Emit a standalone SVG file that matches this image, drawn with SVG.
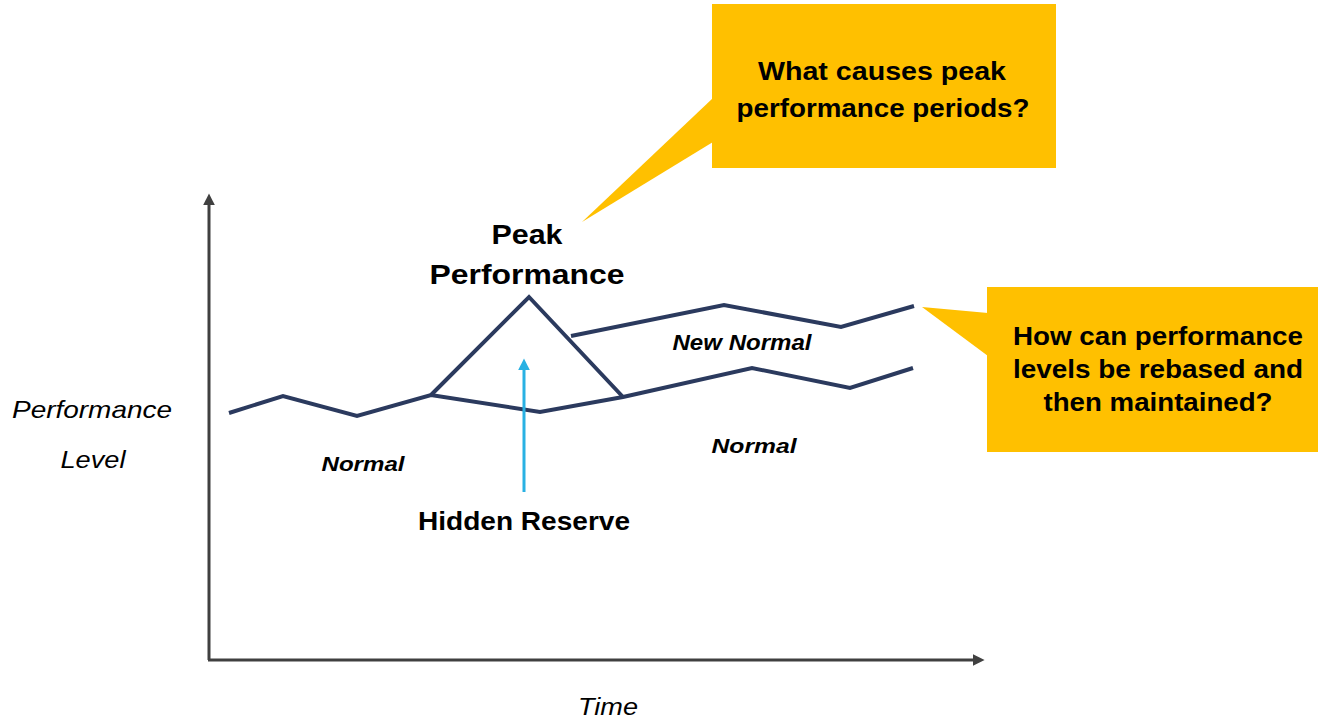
<svg xmlns="http://www.w3.org/2000/svg" width="1318" height="718" viewBox="0 0 1318 718">
<style>
.callout{fill:#FFC000}
.cb{font-family:"Liberation Sans",Arial,sans-serif;font-weight:bold;font-size:25px;fill:#000;text-anchor:middle}
.lbl{font-family:"Liberation Sans",Arial,sans-serif;font-weight:bold;fill:#000;text-anchor:middle}
.it{font-family:"Liberation Sans",Arial,sans-serif;font-style:italic;fill:#000;text-anchor:middle;font-size:24px}
.bi{font-family:"Liberation Sans",Arial,sans-serif;font-style:italic;font-weight:bold;fill:#000;text-anchor:middle}
.axis{stroke:#404040;stroke-width:3;fill:none}
.perf{stroke:#2B3A5E;stroke-width:4;fill:none;stroke-linejoin:miter}
</style>
<defs>
<marker id="axhead" viewBox="0 0 10 10" refX="2" refY="5" markerWidth="4" markerHeight="4" orient="auto" markerUnits="strokeWidth">
<path d="M0,0 L10,5 L0,10 z" fill="#404040"/>
</marker>
<marker id="bluehead" viewBox="0 0 10 10" refX="2" refY="5" markerWidth="4" markerHeight="4" orient="auto" markerUnits="strokeWidth">
<path d="M0,0 L10,5 L0,10 z" fill="#29B1E3"/>
</marker>
</defs>

<g id="connectors">
<line class="axis" x1="209" y1="660" x2="209" y2="203" marker-end="url(#axhead)"/>
<line class="axis" x1="208" y1="660" x2="975" y2="660" marker-end="url(#axhead)"/>
<polyline class="perf" points="229,413 283,396 357,416 431,395 540,412 623,397 752,368 850,388 913,368"/>
<polyline class="perf" points="431,395 529,297 623,397"/>
<polyline class="perf" points="571,336 724,305 841,327 914,306"/>
<line x1="524" y1="492" x2="524" y2="368" stroke="#29B1E3" stroke-width="3" marker-end="url(#bluehead)"/>
</g>

<g id="callout-peak">
<rect class="callout" x="712" y="4" width="344" height="164"/>
<polygon class="callout" points="713,98 713,142 582,222"/>
<text class="cb" x="882" y="80" textLength="248" lengthAdjust="spacingAndGlyphs">What causes peak</text>
<text class="cb" x="883" y="117" textLength="293" lengthAdjust="spacingAndGlyphs">performance periods?</text>
</g>

<g id="callout-rebase">
<rect class="callout" x="987" y="287" width="331" height="165"/>
<polygon class="callout" points="988,313 988,356 922,307"/>
<text class="cb" x="1158" y="345" textLength="290" lengthAdjust="spacingAndGlyphs">How can performance</text>
<text class="cb" x="1158" y="378" textLength="290" lengthAdjust="spacingAndGlyphs">levels be rebased and</text>
<text class="cb" x="1158" y="411" textLength="229" lengthAdjust="spacingAndGlyphs">then maintained?</text>
</g>

<g id="peak-label">
<text class="lbl" x="527" y="244" font-size="28" textLength="71" lengthAdjust="spacingAndGlyphs">Peak</text>
<text class="lbl" x="527" y="284" font-size="28" textLength="195" lengthAdjust="spacingAndGlyphs">Performance</text>
</g>

<g id="hidden-reserve">
<text class="lbl" x="524" y="530" font-size="25" textLength="212" lengthAdjust="spacingAndGlyphs">Hidden Reserve</text>
</g>

<g id="new-normal">
<text class="bi" x="742" y="350" font-size="22" textLength="139" lengthAdjust="spacingAndGlyphs">New Normal</text>
</g>

<g id="normal-left">
<text class="bi" x="363" y="471" font-size="21" textLength="83" lengthAdjust="spacingAndGlyphs">Normal</text>
</g>

<g id="normal-right">
<text class="bi" x="754" y="453" font-size="21" textLength="85" lengthAdjust="spacingAndGlyphs">Normal</text>
</g>

<g id="y-label">
<text class="it" x="92" y="418" textLength="160" lengthAdjust="spacingAndGlyphs">Performance</text>
<text class="it" x="93" y="468" textLength="65" lengthAdjust="spacingAndGlyphs">Level</text>
</g>

<g id="x-label">
<text class="it" x="608" y="715" textLength="60" lengthAdjust="spacingAndGlyphs">Time</text>
</g>
</svg>
